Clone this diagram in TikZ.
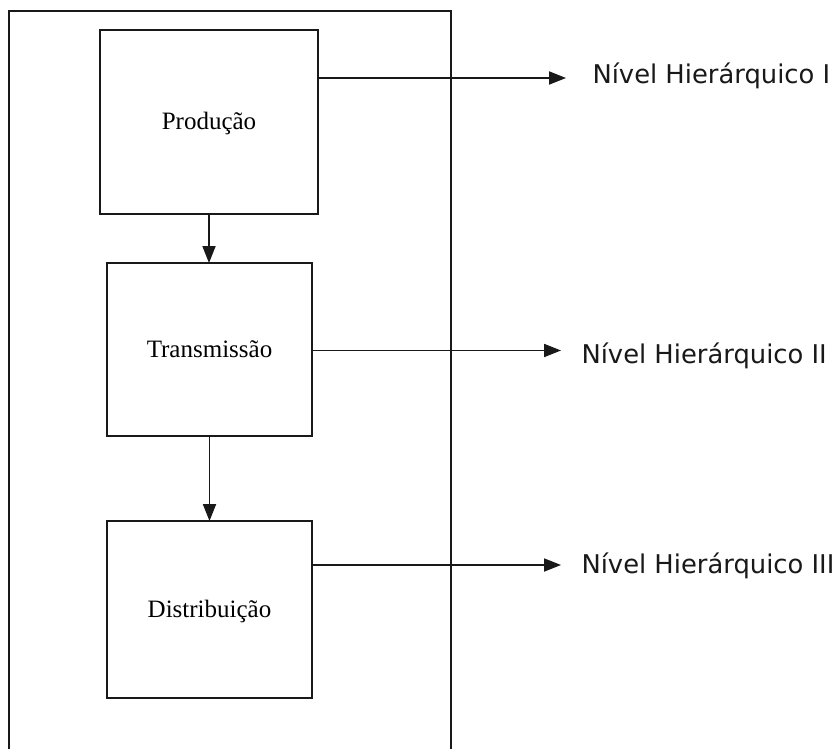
\documentclass[tikz,border=0pt]{standalone}
\usepackage{fontspec}
\setmainfont{Liberation Serif}
\newfontfamily\levelfont{DejaVu Sans}
\usetikzlibrary{shapes}
\usetikzlibrary{arrows.meta}

\begin{document}
\begin{tikzpicture}[x=1pt,y=-1pt,
  block/.style={draw=drawColor,line width=1.8pt,fill=white,inner sep=0pt,outer sep=0pt,
    text height=16pt,text depth=0pt,font=\fontsize{25}{30}\selectfont},
  level/.style={anchor=base west,inner sep=0pt,outer sep=0pt,text=drawColor,
    font=\levelfont\fontsize{25.8}{30}\selectfont},
  link/.style={draw=drawColor,line width=1.8pt,-{Triangle[length=17pt,width=13pt]}}]
\definecolor{drawColor}{RGB}{25,25,25}
\path[use as bounding box,fill=white] (0,0) rectangle (840,749);

\path[draw=drawColor,line width=1.8pt] (9,749) -- (9,11) -- (451,11) -- (451,749);

\node[block,minimum width=218pt,minimum height=184pt] (prod) at (209,122) {Produção};
\node[block,minimum width=205pt,minimum height=173pt] (trans) at (209.5,349.5) {Transmissão};
\node[block,minimum width=205pt,minimum height=177pt] (dist) at (209.5,609.5) {Distribuição};

\node[level] (lvlI) at (592.5,84) {Nível Hierárquico I};
\node[level] (lvlII) at (581.5,363) {Nível Hierárquico II};
\node[level] (lvlIII) at (581.5,573) {Nível Hierárquico III};

\coordinate (tipI) at (566,78);
\coordinate (tipII) at (561,350.5);
\coordinate (tipIII) at (561,565);

\draw[link] (prod.south) -- (prod.south |- trans.north);
\draw[link] (trans.south) -- (dist.north);

\draw[link] (prod.east |- tipI) -- (tipI);
\draw[link] (trans.east |- tipII) -- (tipII);
\draw[link] (dist.east |- tipIII) -- (tipIII);
\end{tikzpicture}
\end{document}
